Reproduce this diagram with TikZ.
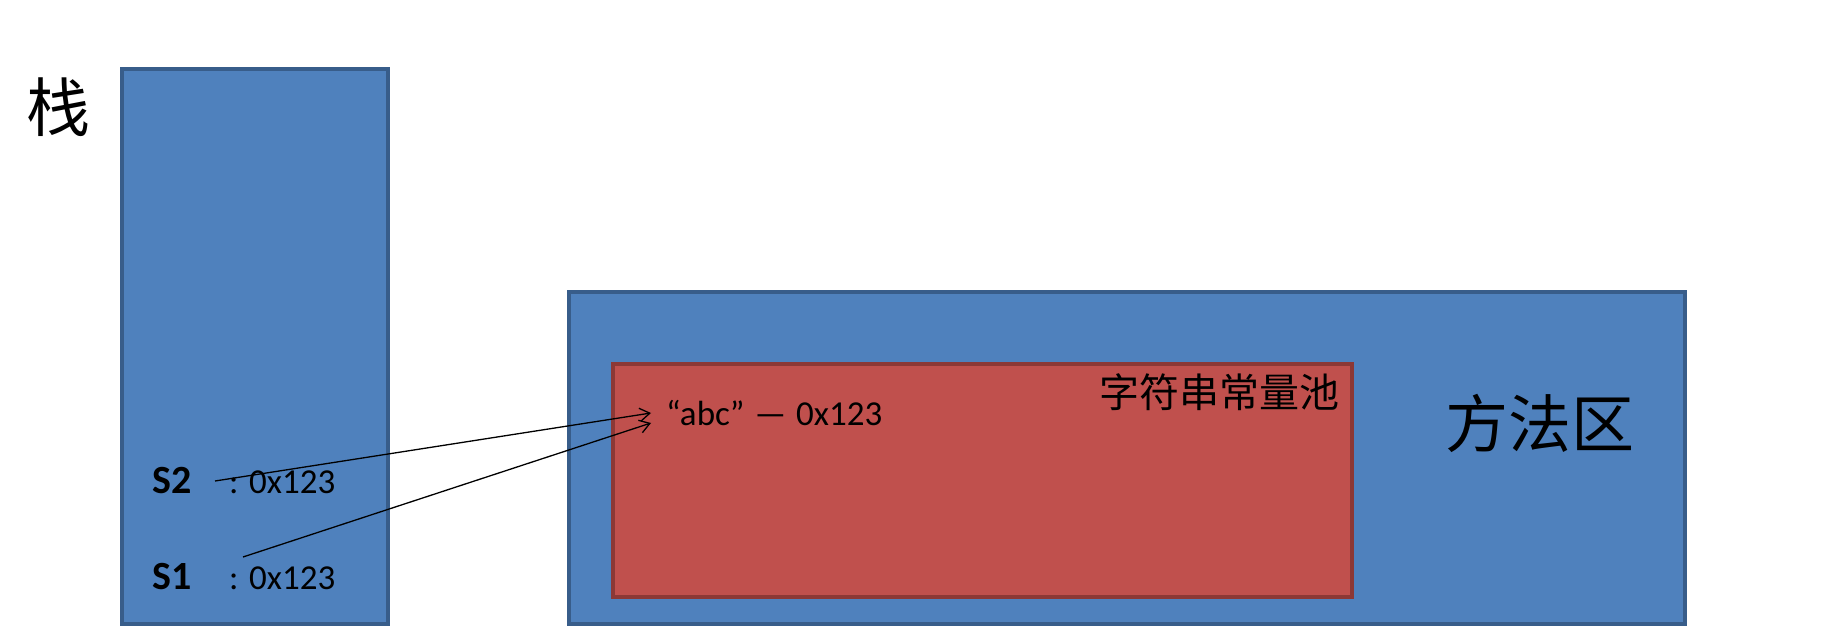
\documentclass[tikz,border=0pt]{standalone}
\usepackage{fontspec}
\setmainfont{Carlito}
\newfontfamily\cjk{Noto Sans CJK SC}
\usetikzlibrary{arrows.meta}
\definecolor{areablue}{HTML}{4F81BD}
\definecolor{areaedge}{HTML}{385D8A}
\definecolor{poolred}{HTML}{C0504D}
\definecolor{pooledge}{HTML}{8C3836}

\begin{document}
\begin{tikzpicture}[x=1pt, y=-1pt, >={Straight Barb[length=10pt,width=13pt]},
        area/.style={draw=areaedge, fill=areablue, line width=3.5pt},
        pool/.style={draw=pooledge, fill=poolred, line width=3.5pt},
        val/.style={inner sep=0pt, anchor=base west, font=\fontsize{35}{40}\selectfont},
        var/.style={val, font=\bfseries\fontsize{40}{44}\selectfont},
        zh/.style={inner sep=0pt, font=\cjk\fontsize{#1}{#1}\selectfont},
        ref/.style={->, line width=1.3pt}]
        \useasboundingbox (0,0) rectangle (1837,631);

        % Stack
        \draw[area] (122,69) rectangle (388,624);
        \node[zh=64] (stacklabel) at (59,107) {栈};
        \node[var] (s2) at (152,493) {S2};
        \node[val] (s2val) at (229,493) {: 0x123};
        \node[var] (s1) at (152,589) {S1};
        \node[val] (s1val) at (229,589) {: 0x123};

        % Method area + string pool
        \draw[area] (569,292) rectangle (1685,624);
        \draw[pool] (613,364) rectangle (1352,597);
        \node[zh=63] (methodlabel) at (1540,423) {方法区};
        \node[zh=40, anchor=east] (poollabel) at (1340,392) {字符串常量池};
        \node[val] (abc) at (666,425) {“abc”\hspace{10pt}—\hspace{10pt}0x123};

        % References into the pool
        \coordinate (s2ref) at (215,481);
        \coordinate (s1ref) at (243,557);
        \coordinate (abcin2) at (651,413);
        \coordinate (abcin1) at (651,423);
        \draw[ref] (s2ref) -- (abcin2);
        \draw[ref] (s1ref) -- (abcin1);
\end{tikzpicture}
\end{document}
